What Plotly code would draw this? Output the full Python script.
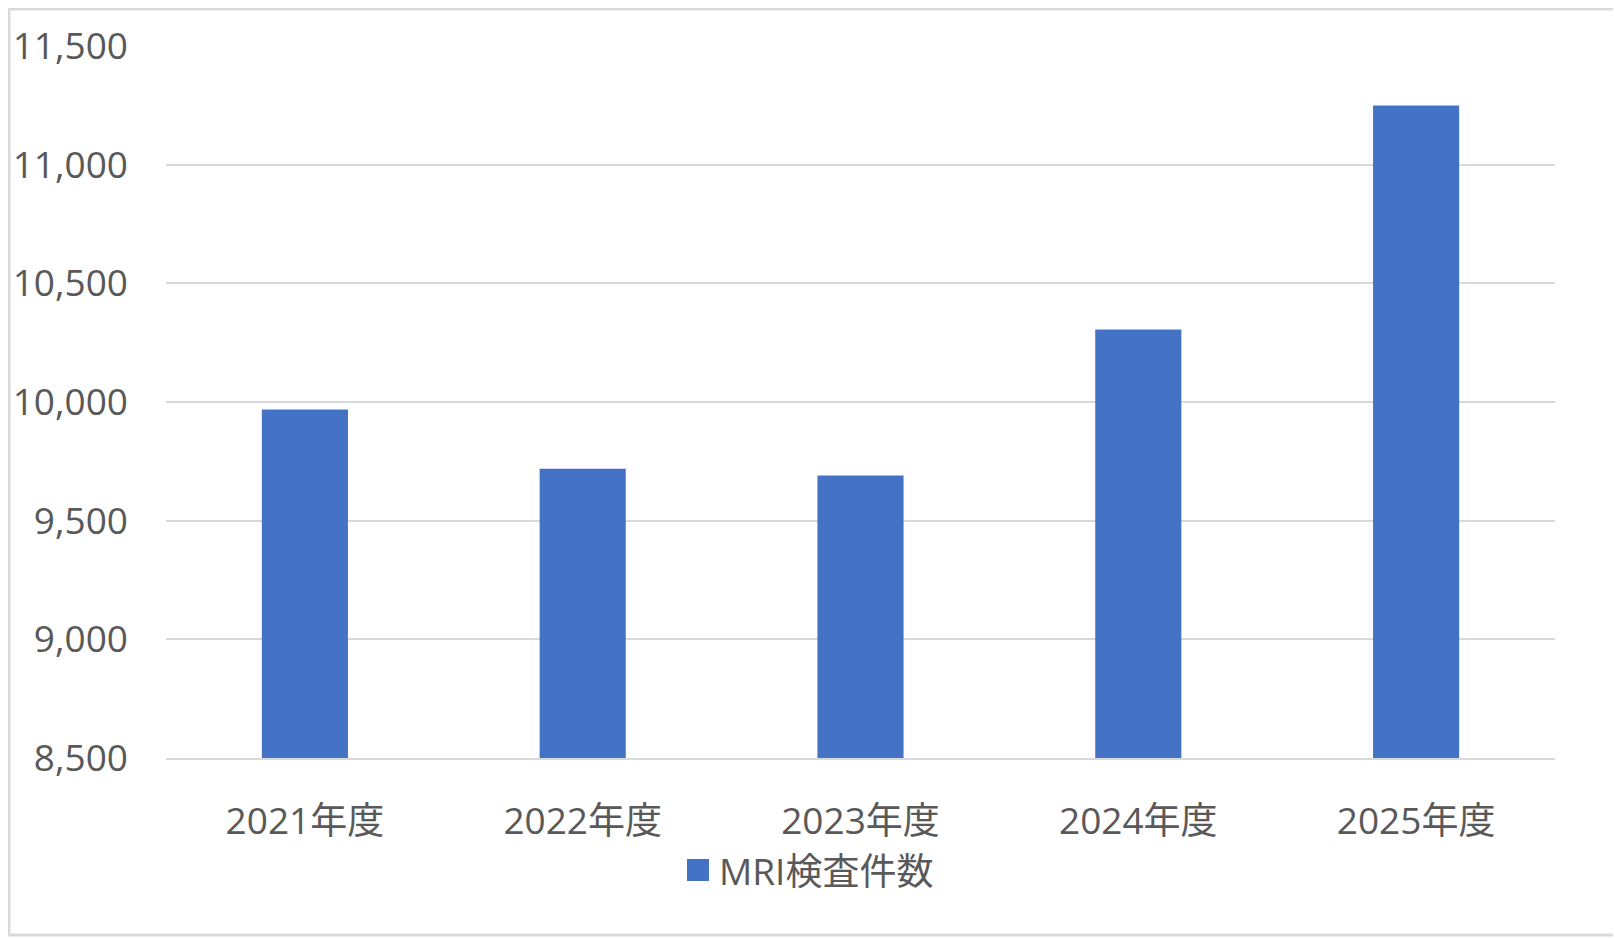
import plotly.graph_objects as go

# MRI検査件数（年度別）
years = ["2021年度", "2022年度", "2023年度", "2024年度", "2025年度"]
mri_counts = [9968, 9719, 9690, 10305, 11249]
y_ticks = [8500, 9000, 9500, 10000, 10500, 11000, 11500]
series_name = "MRI検査件数"

BLUE = "#4472C4"
GRID = "#D9D9D9"
TEXT = "#595959"
FONT = "Open Sans, Noto Sans CJK JP, sans-serif"
FS = 37

# page body has an 8px margin, so the figure is a bit smaller and shifted
OFF = 8
W, H = 1621 - OFF, 938 - OFF
L, R, T, B = 166 - OFF, 66, 46 - OFF, 180
pw, ph = W - L - R, H - T - B


def px_x(page_x):
    return (page_x - OFF - L) / pw


def px_y(page_y):
    return 1 - (page_y - OFF - T) / ph


fig = go.Figure()
fig.add_trace(go.Bar(
    x=years,
    y=mri_counts,
    name=series_name,
    marker=dict(color=BLUE, line=dict(width=0)),
    showlegend=False,
))

fig.update_layout(
    width=W,
    height=H,
    margin=dict(l=L, r=R, t=T, b=B, autoexpand=False),
    paper_bgcolor="white",
    plot_bgcolor="white",
    font=dict(family=FONT, size=FS, color=TEXT),
    bargap=0.69,
    showlegend=False,
)

fig.update_yaxes(
    range=[8500, 11500],
    tickvals=y_ticks,
    tickformat=",d",
    showgrid=True,
    gridcolor=GRID,
    gridwidth=2,
    zeroline=False,
    showline=False,
    ticks="",
    ticklabelstandoff=37,
    automargin=False,
)
fig.update_xaxes(
    showgrid=False,
    showline=True,
    linecolor=GRID,
    linewidth=2,
    ticks="",
    ticklabelstandoff=30,
    automargin=False,
)

# legend drawn by hand so the swatch matches the original size
fig.add_shape(
    type="rect", xref="paper", yref="paper",
    x0=px_x(687), x1=px_x(709), y0=px_y(881), y1=px_y(859),
    fillcolor=BLUE, line=dict(width=0),
)
fig.add_annotation(
    xref="paper", yref="paper",
    x=px_x(717), y=px_y(870),
    xanchor="left", yanchor="middle",
    text=series_name, showarrow=False,
    font=dict(size=FS, color=TEXT),
)

# outer border of the chart area
fig.add_shape(
    type="rect", xref="paper", yref="paper",
    x0=px_x(OFF + 1), x1=px_x(1617),
    y0=px_y(935), y1=px_y(OFF + 1),
    line=dict(color=GRID, width=3), layer="below",
)

fig.write_html("out.html")
